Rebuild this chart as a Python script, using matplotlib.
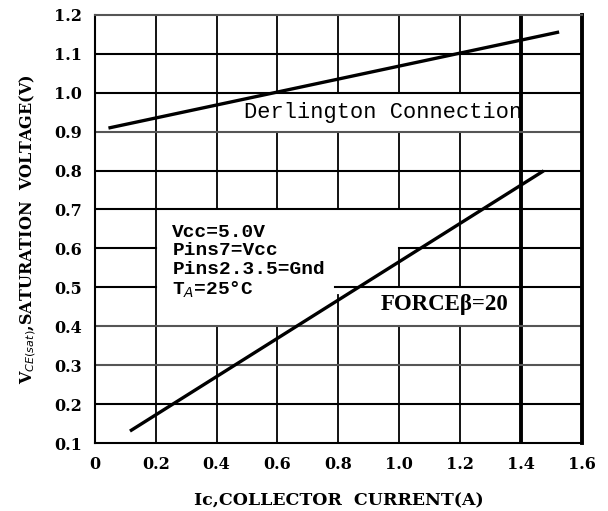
import matplotlib
matplotlib.use('Agg')
import matplotlib.pyplot as plt

# data (Ic in A, Vce(sat) in V)
darl_ic = [0.05, 1.52]
darl_vce = [0.91, 1.155]
force_ic = [0.12, 1.47]
force_vce = [0.133, 0.797]

x_ticks = [0, 0.2, 0.4, 0.6, 0.8, 1.0, 1.2, 1.4, 1.6]
x_labels = ['0', '0.2', '0.4', '0.6', '0.8', '1.0', '1.2', '1.4', '1.6']
y_ticks = [0.1, 0.2, 0.3, 0.4, 0.5, 0.6, 0.7, 0.8, 0.9, 1.0, 1.1, 1.2]
y_labels = ['0.1', '0.2', '0.3', '0.4', '0.5', '0.6', '0.7', '0.8', '0.9', '1.0', '1.1', '1.2']

fig = plt.figure(figsize=(6.08, 5.11), dpi=100)
ax = fig.add_axes([0.156, 0.133, 0.801, 0.838])
ax.set_xlim(0, 1.6)
ax.set_ylim(0.1, 1.2)

# grid with blank areas behind the notes
vgaps = {0.2: [], 0.4: [(0.4, 0.7)], 0.6: [(0.4, 0.7), (0.9, 1.0)],
         0.8: [(0.48, 0.7), (0.9, 1.0)], 1.0: [(0.4, 0.5), (0.6, 0.7), (0.9, 1.0)],
         1.2: [(0.4, 0.5), (0.9, 1.0)]}
hgaps = {0.5: [(0.2, 0.79)], 0.6: [(0.2, 1.0)]}

def pieces(lo, hi, gaps):
    out = []
    start = lo
    for a, b in sorted(gaps):
        out.append((start, a))
        start = b
    out.append((start, hi))
    return out

for xv, g in vgaps.items():
    for a, b in pieces(0.1, 1.2, g):
        ax.plot([xv, xv], [a, b], color='black', lw=1.3, zorder=1)
ax.plot([1.4, 1.4], [0.1, 1.2], color='black', lw=2.8, zorder=1)

for yv in [0.2, 0.3, 0.4, 0.5, 0.6, 0.7, 0.8, 0.9, 1.0, 1.1]:
    col = '#555555' if yv in (0.3, 0.4, 0.9) else 'black'
    for a, b in pieces(0, 1.6, hgaps.get(yv, [])):
        ax.plot([a, b], [yv, yv], color=col, lw=1.5, zorder=1)

ax.plot(darl_ic, darl_vce, color='black', lw=2.4, zorder=3)
ax.plot(force_ic, force_vce, color='black', lw=2.4, zorder=3)

mono = 'Liberation Mono'
ax.text(0.946, 0.948, 'Derlington Connection', family=mono, fontsize=15.8,
        ha='center', va='center')
ax.text(0.255, 0.566, 'Vcc=5.0V\nPins7=Vcc\nPins2.3.5=Gnd\nT$_A$=25°C', family=mono,
        fontsize=14, ha='left', va='center', linespacing=1.12, fontweight='bold')
ax.text(1.15, 0.455, 'FORCEβ=20', family='Liberation Serif', fontsize=16.5,
        ha='center', va='center', fontweight='bold')

for s in ax.spines.values():
    s.set_linewidth(1.5)
ax.spines['right'].set_linewidth(2.8)
ax.spines['top'].set_color('#555555')

serif = 'DejaVu Serif'
ax.set_xticks(x_ticks)
ax.set_xticklabels(x_labels, family=serif, fontsize=11.5, fontweight='bold')
ax.set_yticks(y_ticks)
ax.set_yticklabels(y_labels, family=serif, fontsize=11.5, fontweight='bold')
ax.tick_params(length=0, pad=9)
ax.set_xlabel('Ic,COLLECTOR  CURRENT(A)', family=serif, fontsize=12.5,
              fontweight='bold', labelpad=14)
ax.set_ylabel('V$_{CE(sat)}$,SATURATION  VOLTAGE(V)', family=serif, fontsize=11.5,
              fontweight='bold', labelpad=12)

fig.savefig('out.png', dpi=100)
